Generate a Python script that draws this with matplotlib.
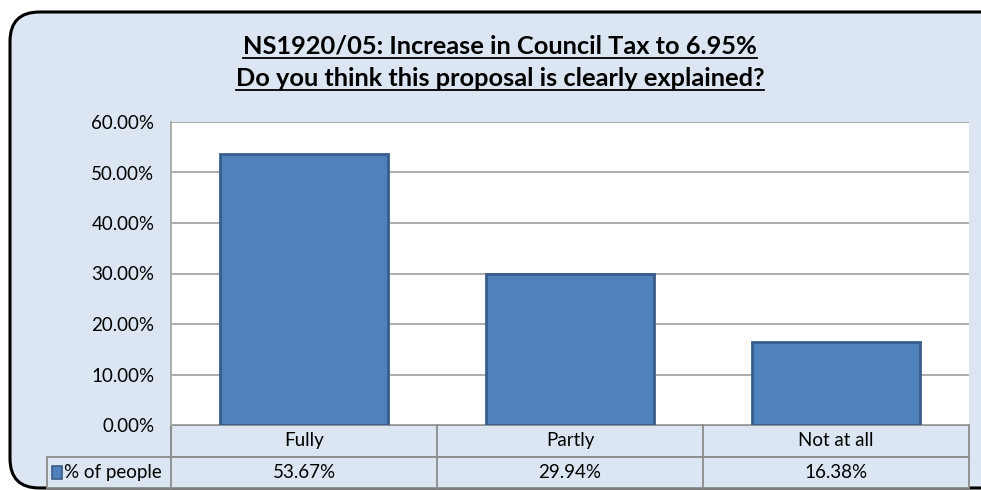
import matplotlib
matplotlib.use('Agg')
import matplotlib.pyplot as plt
from matplotlib.patches import FancyBboxPatch, Rectangle
import matplotlib.transforms as mtransforms

plt.rcParams['font.family'] = ['Lato', 'DejaVu Sans']

categories = ['Fully', 'Partly', 'Not at all']
pct_people = [53.67, 29.94, 16.38]
series_name = '% of people'
yticks = [0, 10, 20, 30, 40, 50, 60]
title_lines = ['NS1920/05: Increase in Council Tax to 6.95%',
               'Do you think this proposal is clearly explained?']

W, H = 981, 490
fig = plt.figure(figsize=(W / 100, H / 100), dpi=100)
fig.patch.set_facecolor('white')

# rounded outer frame
frame = FancyBboxPatch((10 / W, 2 / H), 1.2, 476 / H,
                       boxstyle='round,pad=0,rounding_size=0.03',
                       transform=fig.transFigure, facecolor='#DCE6F2',
                       edgecolor='black', linewidth=2.2, mutation_aspect=2.0,
                       zorder=-5)
fig.patches.append(frame)

titles = []
for y, line in zip([46, 78], title_lines):
    titles.append(fig.text(500 / W, 1 - y / H, line, ha='center', va='center',
                           fontsize=18.3, fontweight='bold'))

ax = fig.add_axes([171 / W, (H - 425) / H, (969 - 171) / W, (425 - 122) / H])
ax.set_facecolor('white')
x = range(len(categories))
ax.bar(x, pct_people, width=0.63, color='#4F81BD', edgecolor='#385D8A',
       linewidth=2, zorder=3)
ax.set_xlim(-0.5, len(categories) - 0.5)
ax.set_ylim(0, 60)
ax.set_yticks(yticks)
ax.set_yticklabels(['%.2f%%' % v for v in yticks], fontsize=13.5)
ax.tick_params(axis='y', length=0, pad=12)
ax.set_xticks([])
ax.grid(axis='y', color='#A6A6A6', linewidth=1.3, zorder=0)
for s in ['top', 'right', 'bottom']:
    ax.spines[s].set_visible(False)
ax.spines['left'].set_color('#A6A6A6')
ax.spines['left'].set_linewidth(1.3)

# data table below the plot
trans = mtransforms.blended_transform_factory(ax.transData, ax.transAxes)
row_h = 31.5 / (425 - 122)
label_left = -0.5 - 124 / 266
lc = '#8C8C8C'
ax.add_patch(Rectangle((-0.5, -row_h), len(categories), row_h, transform=trans,
                       facecolor='#DCE6F2', edgecolor=lc, linewidth=1.3,
                       clip_on=False))
ax.add_patch(Rectangle((label_left, -2 * row_h), len(categories) - 0.5 - label_left,
                       row_h, transform=trans, facecolor='#DCE6F2', edgecolor=lc,
                       linewidth=1.3, clip_on=False))
ax.plot([-0.5, -0.5], [0, -2 * row_h], transform=trans, color=lc,
        linewidth=1.3, clip_on=False)
for i in range(1, len(categories)):
    ax.plot([i - 0.5, i - 0.5], [0, -2 * row_h], transform=trans, color=lc,
            linewidth=1.3, clip_on=False)
for i, (c, v) in enumerate(zip(categories, pct_people)):
    ax.text(i, -0.5 * row_h, c, transform=trans, ha='center', va='center',
            fontsize=13.5)
    ax.text(i, -1.5 * row_h, '%.2f%%' % v, transform=trans, ha='center',
            va='center', fontsize=13.5)
ax.add_patch(Rectangle((label_left + 0.02, -1.5 * row_h - 0.022), 0.035, 0.044,
                       transform=trans, facecolor='#4F81BD', edgecolor='#385D8A',
                       linewidth=1.2, clip_on=False))
ax.text(label_left + 0.065, -1.5 * row_h, series_name, transform=trans,
        ha='left', va='center', fontsize=13.5)

# underline the title lines
renderer = fig.canvas.get_renderer()
for t in titles:
    bb = t.get_window_extent(renderer)
    yl = bb.y0 - 1
    fig.add_artist(plt.Line2D([bb.x0 / W, bb.x1 / W], [yl / H, yl / H],
                              color='black', linewidth=1.3))

fig.savefig('out.png', dpi=100)
